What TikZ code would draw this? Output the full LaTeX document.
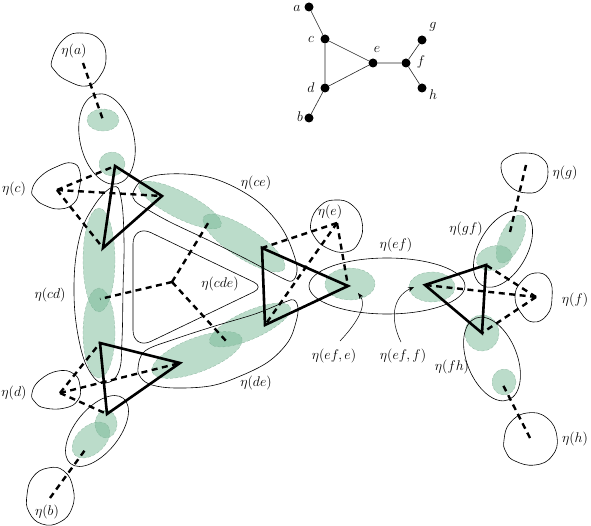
\documentclass[tikz,border=0pt]{standalone}
\usepackage{fix-cm}
\usetikzlibrary{arrows.meta}
\definecolor{gbase}{RGB}{120,185,150}
\definecolor{gline}{RGB}{130,175,150}
\begin{document}
\begin{tikzpicture}[x=1pt,y=-1pt,
  gfill/.style={fill=gbase, fill opacity=0.5, draw=gline, draw opacity=0.9, densely dashed, line width=0.3pt},
  contour/.style={draw=black, line width=0.6pt},
  dsh/.style={line width=2.4pt, dash pattern=on 6pt off 4.5pt},
  tri/.style={line width=2.6pt, line join=miter},
  lab/.style={font=\fontsize{14}{17}\selectfont, inner sep=0pt},
  vdot/.style={circle, fill=black, minimum size=9pt, inner sep=0pt},
  gedge/.style={line width=0.6pt, draw=black!85},
  arr/.style={line width=0.5pt, -{Stealth[length=6pt,width=4.5pt]}},
]
\useasboundingbox (0,0) rectangle (591,526);

% ---------- small graph ----------
\node[vdot] (va) at (309,7) {};
\node[vdot] (vc) at (325,39) {};
\node[vdot] (vd) at (325,88) {};
\node[vdot] (vb) at (309,118) {};
\node[vdot] (ve) at (373,63) {};
\node[vdot] (vf) at (406,63) {};
\node[vdot] (vg) at (422,40) {};
\node[vdot] (vh) at (422,88) {};
\draw[gedge] (va) -- (vc) -- (vd) -- (vb);
\draw[gedge] (vc) -- (ve) -- (vd);
\draw[gedge] (ve) -- (vf) -- (vg);
\draw[gedge] (vf) -- (vh);
\node[lab] (la) at (297,8) {$a$};
\node[lab] (lc) at (311,39) {$c$};
\node[lab] (ld) at (311,88) {$d$};
\node[lab] (lb) at (300,117) {$b$};
\node[lab] (le) at (377,49) {$e$};
\node[lab] (lf) at (421,62) {$f$};
\node[lab] (lg) at (433,27) {$g$};
\node[lab] (lh) at (433,95) {$h$};

% ---------- green regions ----------
\path[gfill] (103,120) ellipse [x radius=16, y radius=11];
\path[gfill] (112,164) ellipse [x radius=13, y radius=12];
\path[gfill] (99,260) ellipse [x radius=16, y radius=52];
\path[gfill] (99,333) ellipse [x radius=16, y radius=45];
\path[gfill] (180,205) ellipse [x radius=46, y radius=13, rotate=-27];
\path[gfill] (244,243) ellipse [x radius=48, y radius=15, rotate=-33];
\path[gfill] (197,355) ellipse [x radius=48, y radius=17, rotate=21];
\path[gfill] (250,325) ellipse [x radius=44, y radius=14, rotate=24];
\path[gfill] (106,424) ellipse [x radius=11, y radius=14];
\path[gfill] (91,440) ellipse [x radius=22, y radius=14, rotate=42];
\path[gfill] (350,284) ellipse [x radius=25, y radius=16];
\path[gfill] (432,287) ellipse [x radius=23, y radius=15];
\path[gfill] (511,239) ellipse [x radius=26, y radius=11, rotate=65];
\path[gfill] (494,258) ellipse [x radius=18, y radius=12, rotate=15];
\path[gfill] (482,333) ellipse [x radius=17, y radius=18];
\path[gfill] (504,382) ellipse [x radius=12, y radius=13];

% ---------- contours ----------
\draw[contour] plot[smooth cycle, tension=0.8] coordinates {(52,60) (64,39) (82,33) (100,40) (106,58) (100,76) (87,86) (68,81) (55,71)};
\draw[contour] plot[smooth cycle, tension=0.8] coordinates {(32,190) (40,177) (56,167) (72,163) (80,172) (79,190) (74,203) (60,209) (44,205) (35,198)};
\draw[contour] plot[smooth cycle, tension=0.8] coordinates {(32,393) (40,380) (58,371) (74,374) (80,386) (78,400) (65,408) (45,408) (35,402)};
\draw[contour] plot[smooth cycle, tension=0.8] coordinates {(27,495) (33,477) (48,468) (64,471) (73,488) (72,508) (60,522) (42,524) (29,512)};
\draw[contour] plot[smooth cycle, tension=0.8] coordinates {(501,168) (508,157) (525,153) (542,158) (548,172) (542,188) (527,193) (510,186)};
\draw[contour] plot[smooth cycle, tension=0.8] coordinates {(515,297) (521,282) (535,273) (549,279) (552,298) (547,315) (533,322) (521,313)};
\draw[contour] plot[smooth cycle, tension=0.8] coordinates {(504,440) (510,423) (527,413) (547,418) (557,437) (552,456) (535,465) (515,461) (506,452)};
\draw[contour] plot[smooth cycle, tension=0.8] coordinates {(311,222) (320,206) (335,200) (352,205) (362,222) (359,242) (346,252) (327,248) (314,236)};
\draw[contour] (107,139) ellipse [x radius=27, y radius=46, rotate=13];
\draw[contour] (97,431) ellipse [x radius=22, y radius=42, rotate=-39];
\draw[contour] (503,249) ellipse [x radius=24, y radius=42, rotate=-30];
\draw[contour] (492,359) ellipse [x radius=25, y radius=44, rotate=22];
\draw[contour] (387,286) ellipse [x radius=78, y radius=28];
% eta(cd)
\draw[contour] plot[smooth cycle, tension=0.7] coordinates {(113,187) (121,198) (124,240) (123,290) (122,340) (119,371) (106,383) (92,375) (80,345) (74,293) (79,240) (94,206)};
% eta(cde)
\draw[contour] (133,290) [rounded corners=20pt] -- (133,224) [rounded corners=11pt] -- (264,287) [rounded corners=20pt] -- (133,350) -- cycle;
% eta(ce)
\draw[contour] plot[smooth cycle, tension=0.6] coordinates {(133,193) (141,181) (158,175) (185,174) (212,178) (240,190) (264,207) (283,230) (294,255) (297,271) (292,281) (280,277) (250,261) (210,241) (170,222) (145,208) (135,201)};
% eta(de)
\draw[contour] plot[smooth cycle, tension=0.6] coordinates {(138,368) (145,351) (175,339) (215,326) (255,314) (285,302) (294,300) (298,308) (296,322) (288,342) (268,362) (238,377) (210,386) (175,388) (152,385) (141,378)};

% ---------- dashed connections ----------
\coordinate (Sa) at (83,63);   \coordinate (Ga) at (103,120);
\coordinate (Sb) at (50,498);  \coordinate (Gb) at (85,450);
\coordinate (Sg) at (526,165); \coordinate (Gg) at (510,232);
\coordinate (Sh) at (530,438); \coordinate (Gh) at (503,385);
\coordinate (Sc) at (57,190);
\coordinate (Sd) at (60,393);
\coordinate (Se) at (337,223);
\coordinate (Sf) at (536,297);
\coordinate (Scde) at (172,282);
\coordinate (Ocd) at (100,299);
\coordinate (Oce) at (210,220);
\coordinate (Ode) at (227,342);
\coordinate (Tc1) at (115,166); \coordinate (Tc2) at (162,196); \coordinate (Tc3) at (103,248);
\coordinate (Td1) at (100,343); \coordinate (Td2) at (180,363); \coordinate (Td3) at (107,414);
\coordinate (Te1) at (262,248); \coordinate (Te2) at (348,286); \coordinate (Te3) at (265,325);
\coordinate (Tf1) at (425,285); \coordinate (Tf2) at (486,265); \coordinate (Tf3) at (482,333);

\draw[dsh] (Sa) -- (Ga);
\draw[dsh] (Sb) -- (Gb);
\draw[dsh] (Sg) -- (Gg);
\draw[dsh] (Sh) -- (Gh);
\foreach \t in {Tc1,Tc2,Tc3} \draw[dsh] (Sc) -- (\t);
\foreach \t in {Td1,Td2,Td3} \draw[dsh] (Sd) -- (\t);
\foreach \t in {Te1,Te2,Te3} \draw[dsh] (Se) -- (\t);
\foreach \t in {Tf1,Tf2,Tf3} \draw[dsh] (Sf) -- (\t);
\foreach \t in {Ocd,Oce,Ode} \draw[dsh] (Scde) -- (\t);

% ---------- triangles ----------
\draw[tri] (Tc1) -- (Tc2) -- (Tc3) -- cycle;
\draw[tri] (Td1) -- (Td2) -- (Td3) -- cycle;
\draw[tri] (Te1) -- (Te2) -- (Te3) -- cycle;
\draw[tri] (Tf1) -- (Tf2) -- (Tf3) -- cycle;

% ---------- labels ----------
\node[lab] (na) at (74,51) {$\eta(a)$};
\node[lab] (nc) at (14,189) {$\eta(c)$};
\node[lab] (nd) at (14,393) {$\eta(d)$};
\node[lab] (nb) at (47,512) {$\eta(b)$};
\node[lab] (ncd) at (50,295) {$\eta(cd)$};
\node[lab] (nce) at (256,183) {$\eta(ce)$};
\node[lab] (ncde) at (220,284) {$\eta(cde)$};
\node[lab] (nde) at (256,383) {$\eta(de)$};
\node[lab] (ne) at (330,212) {$\eta(e)$};
\node[lab] (nef) at (396,245) {$\eta(ef)$};
\node[lab] (nefe) at (334,356) {$\eta(ef,e)$};
\node[lab] (neff) at (403,356) {$\eta(ef,f)$};
\node[lab] (ngf) at (466,229) {$\eta(gf)$};
\node[lab] (ng) at (565,173) {$\eta(g)$};
\node[lab] (nf) at (575,300) {$\eta(f)$};
\node[lab] (nfh) at (452,367) {$\eta(fh)$};
\node[lab] (nh) at (575,439) {$\eta(h)$};

% ---------- arrows ----------
\coordinate (ae0) at (340,341); \coordinate (ae1) at (358,293);
\coordinate (af0) at (401,342); \coordinate (af1) at (414,287);
\draw[arr] (ae0) .. controls (358,322) and (367,305) .. (ae1);
\draw[arr] (af0) .. controls (390,320) and (392,297) .. (af1);
\end{tikzpicture}
\end{document}
